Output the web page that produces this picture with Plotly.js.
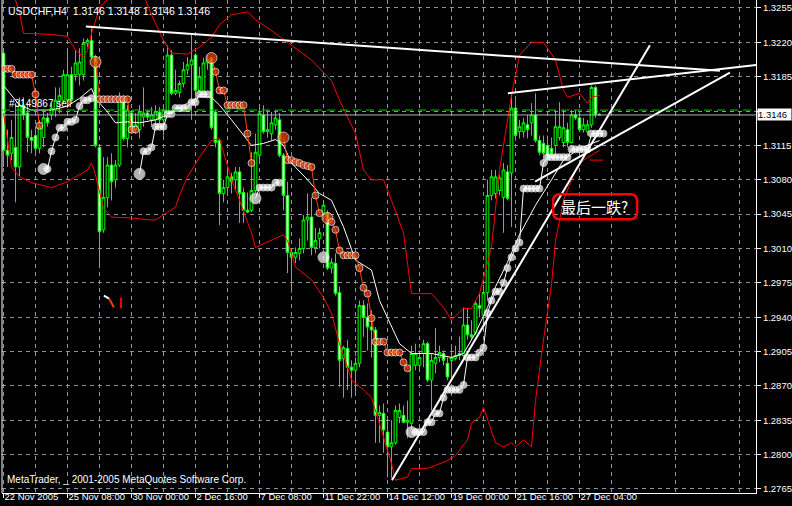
<!DOCTYPE html>
<html>
<head>
<meta charset="utf-8">
<script src="https://cdn.plot.ly/plotly-3.0.1.min.js"></script>
<style>
  html, body { margin: 0; padding: 0; background: #000; }
  #chart { width: 792px; height: 506px; }
</style>
</head>
<body>
<div id="chart"></div>
<script>
// USDCHF H4 candles, one value per bar (bar 0 = 22 Nov 2005)
const open = [
  1.3209,1.3110,1.3107,1.3113,1.3093,1.3156,1.3148,1.3123,1.3125,1.3112,
  1.3123,1.3143,1.3146,1.3151,1.3161,1.3161,1.3161,1.3187,1.3187,1.3187,
  1.3187,1.3219,1.3222,1.3205,1.3113,1.3029,1.3062,1.3095,1.3080,1.3095,
  1.3161,1.3122,1.3148,1.3131,1.3131,1.3144,1.3148,1.3141,1.3141,1.3149,
  1.3141,1.3148,1.3207,1.3168,1.3169,1.3178,1.3192,1.3197,1.3207,1.3171,
  1.3169,1.3199,1.3204,1.3149,1.3120,1.3066,1.3072,1.3083,1.3080,1.3088,
  1.3067,1.3049,1.3049,1.3069,1.3105,1.3146,1.3129,1.3127,1.3136,1.3141,
  1.3105,1.3064,1.3006,1.3001,1.3005,1.3010,1.3039,1.3042,1.3011,1.3020,
  1.3046,1.3046,1.2990,1.2995,1.2965,1.2898,1.2908,1.2889,1.2886,1.2893,
  1.2952,1.2940,1.2930,1.2927,1.2840,1.2842,1.2823,1.2808,1.2812,1.2838,
  1.2840,1.2833,1.2832,1.2891,1.2891,1.2903,1.2913,1.2876,1.2893,1.2899,
  1.2903,1.2893,1.2896,1.2898,1.2901,1.2901,1.2932,1.2922,1.2924,1.2952,
  1.2942,1.2965,1.3064,1.3066,1.3069,1.3062,1.3088,1.3087,1.3153,1.3129,
  1.3129,1.3136,1.3138,1.3146,1.3120,1.3117,1.3115,1.3112,1.3115,1.3123,
  1.3118,1.3131,1.3118,1.3146,1.3143,1.3131,1.3129,1.3136,1.3174,1.3146
];
const high = [
  1.3214,1.3131,1.3141,1.3158,1.3164,1.3164,1.3158,1.3131,1.3134,1.3141,
  1.3151,1.3148,1.3158,1.3174,1.3174,1.3192,1.3212,1.3195,1.3212,1.3214,
  1.3224,1.3224,1.3234,1.3207,1.3115,1.3103,1.3103,1.3107,1.3100,1.3169,
  1.3166,1.3156,1.3151,1.3148,1.3156,1.3174,1.3151,1.3154,1.3156,1.3154,
  1.3153,1.3217,1.3212,1.3192,1.3181,1.3200,1.3205,1.3229,1.3209,1.3195,
  1.3204,1.3207,1.3205,1.3151,1.3122,1.3080,1.3093,1.3087,1.3093,1.3093,
  1.3072,1.3067,1.3108,1.3127,1.3156,1.3156,1.3151,1.3149,1.3151,1.3148,
  1.3107,1.3078,1.3008,1.3011,1.3020,1.3044,1.3066,1.3062,1.3031,1.3031,
  1.3059,1.3049,1.3000,1.3005,1.2971,1.2911,1.2917,1.2896,1.2899,1.2957,
  1.2957,1.2954,1.2947,1.2930,1.2850,1.2852,1.2835,1.2835,1.2850,1.2852,
  1.2850,1.2855,1.2911,1.2913,1.2906,1.2917,1.2915,1.2903,1.2929,1.2911,
  1.2906,1.2899,1.2909,1.2911,1.2920,1.2950,1.2949,1.2937,1.2957,1.2964,
  1.2973,1.3080,1.3090,1.3090,1.3085,1.3097,1.3095,1.3168,1.3161,1.3141,
  1.3143,1.3146,1.3158,1.3168,1.3125,1.3125,1.3125,1.3123,1.3151,1.3159,
  1.3151,1.3138,1.3151,1.3151,1.3148,1.3143,1.3141,1.3176,1.3176,1.3148
];
const low = [
  1.3093,1.3093,1.3100,1.3057,1.3083,1.3141,1.3108,1.3107,1.3108,1.3107,
  1.3113,1.3134,1.3141,1.3144,1.3148,1.3158,1.3159,1.3158,1.3181,1.3176,
  1.3181,1.3215,1.3202,1.3113,1.2990,1.3026,1.3052,1.3059,1.3072,1.3093,
  1.3120,1.3113,1.3127,1.3127,1.3122,1.3134,1.3141,1.3134,1.3134,1.3136,
  1.3125,1.3146,1.3166,1.3166,1.3164,1.3174,1.3187,1.3141,1.3164,1.3169,
  1.3168,1.3192,1.3131,1.3113,1.3034,1.3057,1.3066,1.3066,1.3069,1.3036,
  1.3036,1.3046,1.3047,1.3067,1.3100,1.3127,1.3123,1.3120,1.3131,1.3103,
  1.3049,1.2985,1.2965,1.2995,1.2998,1.3005,1.3018,1.3003,1.3005,1.3010,
  1.3042,1.2988,1.2985,1.2962,1.2869,1.2858,1.2866,1.2858,1.2864,1.2889,
  1.2920,1.2906,1.2899,1.2812,1.2812,1.2802,1.2777,1.2776,1.2810,1.2832,
  1.2832,1.2817,1.2825,1.2886,1.2886,1.2889,1.2874,1.2845,1.2883,1.2894,
  1.2891,1.2876,1.2879,1.2896,1.2896,1.2899,1.2917,1.2917,1.2922,1.2940,
  1.2937,1.2957,1.3059,1.3061,1.3064,1.3026,1.3059,1.3032,1.3120,1.3122,
  1.3123,1.3122,1.3125,1.3118,1.3105,1.3100,1.3098,1.3103,1.3102,1.3120,
  1.3113,1.3113,1.3117,1.3141,1.3129,1.3128,1.3125,1.3133,1.3143,1.3146
];
const close = [
  1.3110,1.3105,1.3123,1.3093,1.3156,1.3146,1.3123,1.3120,1.3112,1.3134,
  1.3143,1.3138,1.3153,1.3161,1.3166,1.3187,1.3187,1.3161,1.3199,1.3200,
  1.3219,1.3222,1.3205,1.3115,1.3027,1.3062,1.3095,1.3078,1.3095,1.3161,
  1.3122,1.3151,1.3131,1.3136,1.3149,1.3148,1.3144,1.3146,1.3149,1.3141,
  1.3151,1.3207,1.3168,1.3171,1.3178,1.3192,1.3197,1.3202,1.3171,1.3185,
  1.3199,1.3202,1.3133,1.3118,1.3066,1.3072,1.3083,1.3078,1.3088,1.3066,
  1.3049,1.3047,1.3069,1.3108,1.3148,1.3129,1.3131,1.3138,1.3143,1.3105,
  1.3064,1.3006,1.3001,1.3006,1.3010,1.3039,1.3042,1.3011,1.3018,1.3026,
  1.3054,1.2990,1.2996,1.2964,1.2896,1.2909,1.2889,1.2886,1.2893,1.2952,
  1.2940,1.2930,1.2927,1.2840,1.2843,1.2825,1.2808,1.2812,1.2845,1.2845,
  1.2833,1.2835,1.2903,1.2903,1.2899,1.2913,1.2876,1.2896,1.2899,1.2904,
  1.2896,1.2879,1.2899,1.2901,1.2903,1.2932,1.2922,1.2920,1.2954,1.2949,
  1.2965,1.3064,1.3083,1.3083,1.3082,1.3090,1.3061,1.3153,1.3125,1.3134,
  1.3138,1.3131,1.3146,1.3120,1.3108,1.3107,1.3103,1.3107,1.3134,1.3134,
  1.3133,1.3118,1.3146,1.3143,1.3131,1.3136,1.3136,1.3174,1.3146,1.3146
];

// Trailing stop dots (bars 0..150): orange while above price, white while below
const stopAbove = [
  1.3193,1.3193,1.3193,1.3187,1.3187,1.3187,1.3187,1.3187,1.3167,1.3135,
  null,null,null,null,null,null,null,null,null,null,
  null,null,null,1.3200,1.3162,1.3162,1.3162,1.3162,1.3162,1.3162,
  1.3162,1.3162,1.3131,1.3131,null,null,null,null,null,null,
  null,null,null,null,null,null,null,null,null,null,
  null,null,1.3204,1.3190,1.3171,1.3171,1.3156,1.3156,1.3156,1.3156,
  1.3156,1.3127,1.3097,null,null,null,null,null,null,null,
  1.3123,1.3100,1.3100,1.3098,1.3097,1.3095,1.3094,1.3093,1.3064,1.3046,
  null,1.3041,1.3037,1.3029,1.3008,1.3003,1.3003,1.3003,1.3003,1.2990,
  1.2970,1.2964,1.2939,1.2915,1.2915,1.2915,1.2904,1.2904,1.2904,1.2904,
  1.2894,1.2888,null,null,null,null,null,null,null,null,
  null,null,null,null,null,null,null,null,null,null,
  null,null,null,null,null,null,null,null,null,null,
  null,null,null,null,null,null,null,null,null,null,
  null,null,null,null,null,null,null,null,null,null,
  null
];
const stopBelow = [
  null,null,null,null,null,null,null,null,null,null,
  1.3091,1.3091,1.3109,1.3123,1.3133,1.3133,1.3139,1.3139,1.3141,1.3155,
  1.3161,1.3161,1.3163,null,null,null,null,null,null,null,
  null,null,null,null,1.3086,1.3109,1.3109,1.3113,1.3134,1.3134,
  1.3134,1.3147,1.3147,1.3153,1.3153,1.3153,1.3153,1.3159,1.3159,1.3167,
  1.3167,1.3167,null,null,null,null,null,null,null,null,
  null,null,null,1.3061,1.3072,1.3072,1.3072,1.3072,1.3077,1.3077,
  null,null,null,null,null,null,null,null,null,null,
  1.3001,null,null,null,null,null,null,null,null,null,
  null,null,null,null,null,null,null,null,null,null,
  null,null,1.2823,1.2823,1.2823,1.2823,1.2833,1.2833,1.2842,1.2842,
  1.2858,1.2866,1.2866,1.2866,1.2866,1.2871,1.2899,1.2899,1.2899,1.2904,
  1.2909,1.2944,1.2957,1.2966,1.2966,1.2975,1.2990,1.3001,1.3010,1.3016,
  1.3071,1.3071,1.3071,1.3071,1.3071,1.3097,1.3103,1.3103,1.3103,1.3103,
  1.3103,1.3103,1.3111,1.3111,1.3111,1.3111,1.3111,1.3127,1.3127,1.3127,
  1.3127
];

// Moving average (band centre) and envelope bands, as bar / price pairs
const maBars = [0,4,7,12,16,19,22,23,26,28,31,34,38,41,46,49,52,54,57,62,65,68,70,72,76,79,82,85,88,92,94,97,99,102,107,112,115,118,121,123,126,129,133,137,140,144,149];
const maVals = [1.3176,1.3156,1.3151,1.3151,1.3155,1.3163,1.3173,1.3163,1.3149,1.3138,1.3139,1.3138,1.3141,1.3146,1.3158,1.3165,1.3164,1.3156,1.3141,1.3115,1.3117,1.3121,1.3115,1.3097,1.3080,1.3066,1.3059,1.3032,1.2998,1.2988,1.2957,1.2930,1.2913,1.2903,1.2903,1.2899,1.2903,1.2924,1.2950,1.2971,1.2996,1.3024,1.3054,1.3080,1.3100,1.3112,1.3120];

const upperBars = [0,3,4,5,7,12,16,18,20,21,22,23,24,27,35,37,40,42,46,49,52,54,57,61,63,67,72,77,82,84,88,90,92,95,97,100,102,107,110,112,115,117,119,122,124,127,129,132,135,138,140,141,144,146,147,149];
const upperVals = [1.3273,1.3263,1.3250,1.3229,1.3229,1.3228,1.3226,1.3212,1.3205,1.3212,1.3229,1.3243,1.3255,1.3268,1.3268,1.3248,1.3222,1.3209,1.3208,1.3215,1.3225,1.3238,1.3248,1.3251,1.3243,1.3232,1.3217,1.3202,1.3181,1.3161,1.3127,1.3090,1.3080,1.3080,1.3059,1.3026,1.2964,1.2964,1.2950,1.2937,1.2949,1.2949,1.2964,1.3011,1.3090,1.3166,1.3207,1.3220,1.3220,1.3202,1.3171,1.3164,1.3168,1.3158,1.3164,1.3166];

const lowerBars = [0,2,4,7,12,16,21,22,23,25,27,32,37,38,41,43,44,46,49,52,54,57,59,62,63,67,70,71,73,77,80,82,84,86,87,90,92,95,97,98,100,101,102,106,108,111,113,116,117,119,120,122,123,125,127,128,130,132,133,135,137,138,140,143,145,149];
const lowerVals = [1.3148,1.3093,1.3083,1.3077,1.3072,1.3078,1.3090,1.3097,1.3085,1.3051,1.3042,1.3041,1.3039,1.3039,1.3047,1.3052,1.3064,1.3083,1.3103,1.3120,1.3122,1.3080,1.3059,1.3026,1.3011,1.3018,1.3024,1.3018,1.2991,1.2978,1.2960,1.2944,1.2913,1.2889,1.2876,1.2866,1.2858,1.2818,1.2791,1.2774,1.2776,1.2777,1.2786,1.2786,1.2789,1.2794,1.2799,1.2815,1.2832,1.2838,1.2848,1.2825,1.2812,1.2808,1.2812,1.2808,1.2815,1.2808,1.2855,1.2917,1.2973,1.3018,1.3059,1.3090,1.3100,1.3110];

// Hand-drawn trend lines: [startBar, endBar], [startPrice, endPrice]
const trendLines = [
  { bars: [20.6, 179.1], prices: [1.3236, 1.3191] },
  { bars: [126.1, 188.4], prices: [1.3168, 1.3197] },
  { bars: [132.9, 181.6], prices: [1.3078, 1.3189] },
  { bars: [97.1, 161.6], prices: [1.2774, 1.3217] }
];

// Axis ticks
const priceTicks = [1.2765,1.2800,1.2835,1.2870,1.2905,1.2940,1.2975,1.3010,1.3045,1.3080,1.3115,1.3150,1.3185,1.3220,1.3255];
const priceTickText = ['1.2765','1.2800','1.2835','1.2870','1.2905','1.2940','1.2975','1.3010','1.3045','1.3080','1.3115','','1.3185','1.3220','1.3255'];
const timeTickBars = [0,16,32,48,64,80,96,112,128,144];
const timeTickText = ['22 Nov 2005','25 Nov 08:00','30 Nov 00:00','2 Dec 16:00','7 Dec 08:00','11 Dec 22:00','14 Dec 12:00','19 Dec 00:00','21 Dec 16:00','27 Dec 04:00'];

const lastBid = 1.3146;
const orderPrice = 1.3151;

// ---------------------------------------------------------------
const FONT = 'Liberation Sans, Arial, sans-serif';
const GRID = '#8c949e';
const barIdx = open.map((_, i) => i);
const stopIdx = stopAbove.map((_, i) => i);

// first dot of each run is drawn larger
const runSizes = vals => vals.map((v, i) => v == null ? 0 : (i > 0 && vals[i - 1] == null ? 11 : 7));

const traces = [
  {
    type: 'scatter', mode: 'lines', x: upperBars, y: upperVals,
    line: { color: '#ff0000', width: 1 }, hoverinfo: 'skip'
  },
  {
    type: 'scatter', mode: 'lines', x: lowerBars, y: lowerVals,
    line: { color: '#ff0000', width: 1 }, hoverinfo: 'skip'
  },
  {
    type: 'candlestick', x: barIdx, open, high, low, close,
    increasing: { line: { color: '#00ff00', width: 1 }, fillcolor: '#000000' },
    decreasing: { line: { color: '#00ff00', width: 1 }, fillcolor: '#ffffff' },
    whiskerwidth: 0, hoverinfo: 'skip'
  },
  {
    type: 'scatter', mode: 'lines', x: maBars, y: maVals,
    line: { color: '#ffffff', width: 1 }, hoverinfo: 'skip'
  },
  {
    type: 'scatter', mode: 'lines+markers', x: stopIdx, y: stopAbove,
    connectgaps: false,
    line: { color: '#ff4000', width: 1 },
    marker: { color: '#ff4000', size: runSizes(stopAbove) }, hoverinfo: 'skip'
  },
  {
    type: 'scatter', mode: 'lines+markers', x: stopIdx, y: stopBelow,
    connectgaps: false,
    line: { color: '#ffffff', width: 1 },
    marker: { color: '#ffffff', size: runSizes(stopBelow) }, hoverinfo: 'skip'
  }
];
trendLines.forEach(t => traces.push({
  type: 'scatter', mode: 'lines', x: t.bars, y: t.prices,
  line: { color: '#ffffff', width: 2 }, hoverinfo: 'skip'
}));

const minorGrid = [];
for (let b = 8; b <= 184; b += 16) minorGrid.push(b);

const layout = {
  width: 792, height: 506,
  margin: { l: 2, r: 36, t: 0, b: 13, pad: 0 },
  paper_bgcolor: '#000000', plot_bgcolor: '#000000',
  showlegend: false, hovermode: false,
  boxgap: 0.25, boxgroupgap: 0.1,
  font: { family: FONT, size: 10, color: '#ffffff' },
  xaxis: {
    range: [-0.375, 188.125], fixedrange: true, zeroline: false,
    tickmode: 'array', tickvals: timeTickBars, ticktext: timeTickText,
    tickangle: 0, automargin: false,
    ticks: 'outside', ticklen: 4, tickcolor: '#ffffff', tickwidth: 1,
    ticklabelposition: 'outside right', ticklabelstandoff: -5,
    tickfont: { family: FONT, size: 9.5, color: '#ffffff' },
    showline: true, linecolor: '#ffffff', linewidth: 1,
    showgrid: true, gridcolor: GRID, griddash: '4px,4px', gridwidth: 1,
    minor: { tickmode: 'array', tickvals: minorGrid, showgrid: true, gridcolor: GRID, griddash: '4px,4px', gridwidth: 1, ticks: '' },
    rangeslider: { visible: false }
  },
  yaxis: {
    side: 'right', range: [1.27609, 1.32631], fixedrange: true, zeroline: false,
    tickmode: 'array', tickvals: priceTicks, ticktext: priceTickText,
    automargin: false,
    ticks: 'outside', ticklen: 4, tickcolor: '#ffffff', tickwidth: 1,
    tickfont: { family: FONT, size: 9.5, color: '#ffffff' },
    showline: true, linecolor: '#ffffff', linewidth: 1,
    showgrid: true, gridcolor: GRID, griddash: '4px,4px', gridwidth: 1
  },
  shapes: [
    // left frame edge
    { type: 'line', xref: 'paper', yref: 'paper', x0: 0, x1: 0, y0: 0, y1: 1, line: { color: '#ffffff', width: 1 } },
    // pending order level
    { type: 'line', xref: 'paper', yref: 'y', x0: 0, x1: 1, y0: orderPrice, y1: orderPrice, line: { color: '#00c800', width: 1, dash: '8px,5px' } },
    // bid line
    { type: 'line', xref: 'paper', yref: 'y', x0: 0, x1: 1, y0: lastBid, y1: lastBid, line: { color: '#a9b1ba', width: 1 } },
    // small stop marks
    { type: 'line', xref: 'x', yref: 'y', x0: 25.1, x1: 26.4, y0: 1.2962, y1: 1.2959, line: { color: '#ffffff', width: 2 } },
    { type: 'line', xref: 'x', yref: 'y', x0: 26.4, x1: 27.6, y0: 1.2959, y1: 1.2950, line: { color: '#ff4000', width: 2 } },
    { type: 'line', xref: 'x', yref: 'y', x0: 29.4, x1: 29.4, y0: 1.2960, y1: 1.2949, line: { color: '#ff0000', width: 2 } },
    { type: 'line', xref: 'x', yref: 'y', x0: 146.6, x1: 149.9, y0: 1.3100, y1: 1.3100, line: { color: '#ff0000', width: 1 } },
    // rounded label frame
    {
      type: 'path', xref: 'x', yref: 'y', xsizemode: 'pixel', ysizemode: 'pixel',
      xanchor: 147.9, yanchor: 1.30525, layer: 'above',
      path: 'M -35,-12.5 L 35,-12.5 Q 42,-12.5 42,-5.5 L 42,5.5 Q 42,12.5 35,12.5 L -35,12.5 Q -42,12.5 -42,5.5 L -42,-5.5 Q -42,-12.5 -35,-12.5 Z',
      line: { color: '#ff0000', width: 2.5 }
    }
  ],
  annotations: [
    {
      xref: 'paper', yref: 'paper', x: 0, y: 1, xanchor: 'left', yanchor: 'top',
      xshift: 4, yshift: -3, showarrow: false,
      text: 'USDCHF,H4&nbsp; 1.3146 1.3148 1.3146 1.3146',
      font: { family: FONT, size: 10.5, color: '#ffffff' }
    },
    {
      xref: 'paper', yref: 'y', x: 0, y: 1.3158, xanchor: 'left', yanchor: 'middle',
      xshift: 5, showarrow: false, text: '#3149867 sell',
      font: { family: FONT, size: 10, color: '#ffffff' }
    },
    {
      xref: 'paper', yref: 'paper', x: 0, y: 0, xanchor: 'left', yanchor: 'bottom',
      xshift: 3, yshift: 6, showarrow: false,
      text: 'MetaTrader, _ 2001-2005 MetaQuotes Software Corp.',
      font: { family: FONT, size: 10, color: '#ffffff' }
    },
    {
      xref: 'x', yref: 'y', x: 147.7, y: 1.30525, xanchor: 'center', yanchor: 'middle',
      showarrow: false, text: '最后一跌?',
      font: { family: 'Noto Sans CJK SC, sans-serif', size: 15, color: '#ffffff' }
    },
    {
      xref: 'paper', yref: 'y', x: 1, y: lastBid, xanchor: 'left', yanchor: 'middle',
      xshift: 1, showarrow: false, text: '1.3146', bgcolor: '#ffffff',
      width: 33, align: 'left', borderpad: 0,
      font: { family: FONT, size: 9.5, color: '#000000' }
    }
  ]
};

Plotly.newPlot('chart', traces, layout, { staticPlot: true, displayModeBar: false });
</script>
</body>
</html>
